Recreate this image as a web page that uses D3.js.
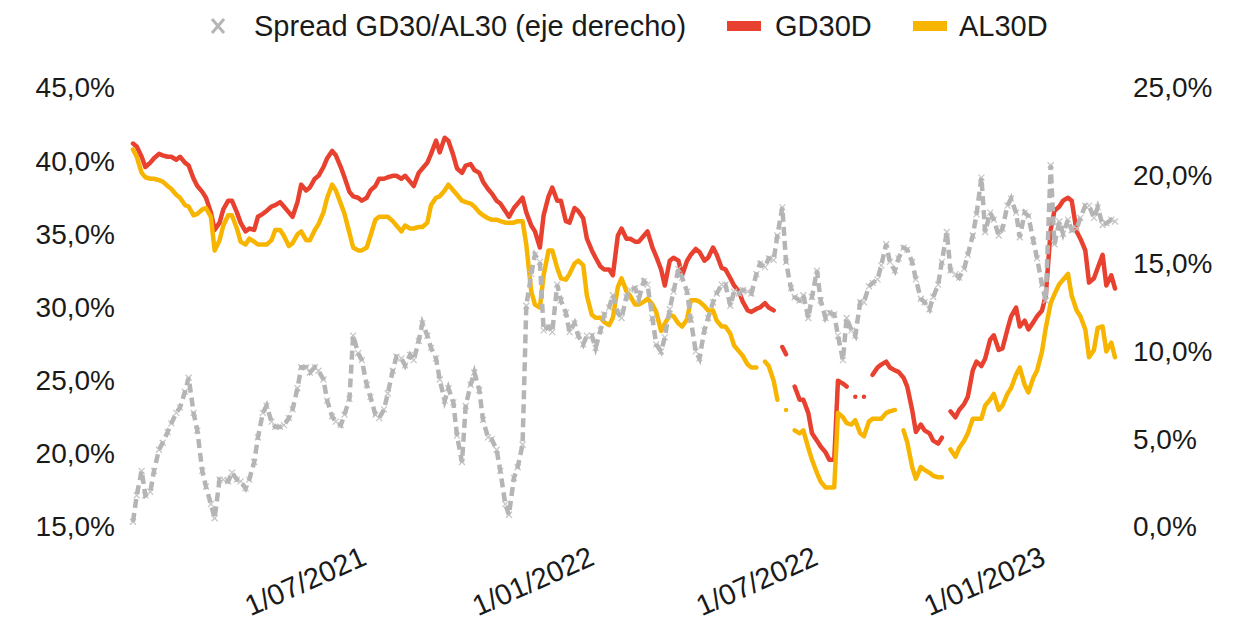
<!DOCTYPE html>
<html>
<head>
<meta charset="utf-8">
<script src="https://cdn.jsdelivr.net/npm/d3@7"></script>
<style>
  body { margin: 0; background: #fff; }
  #chart { width: 1249px; height: 630px; }
  text { font-family: "Liberation Sans", Arial, sans-serif; fill: #1a1a1a; }
</style>
</head>
<body>
<div id="chart"></div>
<script>
// fechas (lunes y jueves)
var dates = [
  '2020-12-28','2020-12-31','2021-01-04','2021-01-07','2021-01-11','2021-01-14','2021-01-18','2021-01-21',
  '2021-01-25','2021-01-28','2021-02-01','2021-02-04','2021-02-08','2021-02-11','2021-02-15','2021-02-18',
  '2021-02-22','2021-02-25','2021-03-01','2021-03-04','2021-03-08','2021-03-11','2021-03-15','2021-03-18',
  '2021-03-22','2021-03-25','2021-03-29','2021-04-01','2021-04-05','2021-04-08','2021-04-12','2021-04-15',
  '2021-04-19','2021-04-22','2021-04-26','2021-04-29','2021-05-03','2021-05-06','2021-05-10','2021-05-13',
  '2021-05-17','2021-05-20','2021-05-24','2021-05-27','2021-05-31','2021-06-03','2021-06-07','2021-06-10',
  '2021-06-14','2021-06-17','2021-06-21','2021-06-24','2021-06-28','2021-07-01','2021-07-05','2021-07-08',
  '2021-07-12','2021-07-15','2021-07-19','2021-07-22','2021-07-26','2021-07-29','2021-08-02','2021-08-05',
  '2021-08-09','2021-08-12','2021-08-16','2021-08-19','2021-08-23','2021-08-26','2021-08-30','2021-09-02',
  '2021-09-06','2021-09-09','2021-09-13','2021-09-16','2021-09-20','2021-09-23','2021-09-27','2021-09-30',
  '2021-10-04','2021-10-07','2021-10-11','2021-10-14','2021-10-18','2021-10-21','2021-10-25','2021-10-28',
  '2021-11-01','2021-11-04','2021-11-08','2021-11-11','2021-11-15','2021-11-18','2021-11-22','2021-11-25',
  '2021-11-29','2021-12-02','2021-12-06','2021-12-09','2021-12-13','2021-12-16','2021-12-20','2021-12-23',
  '2021-12-27','2021-12-30','2022-01-03','2022-01-06','2022-01-10','2022-01-13','2022-01-17','2022-01-20',
  '2022-01-24','2022-01-27','2022-01-31','2022-02-03','2022-02-07','2022-02-10','2022-02-14','2022-02-17',
  '2022-02-21','2022-02-24','2022-02-28','2022-03-03','2022-03-07','2022-03-10','2022-03-14','2022-03-17',
  '2022-03-21','2022-03-24','2022-03-28','2022-03-31','2022-04-04','2022-04-07','2022-04-11','2022-04-14',
  '2022-04-18','2022-04-21','2022-04-25','2022-04-28','2022-05-02','2022-05-05','2022-05-09','2022-05-12',
  '2022-05-16','2022-05-19','2022-05-23','2022-05-26','2022-05-30','2022-06-02','2022-06-06','2022-06-09',
  '2022-06-13','2022-06-16','2022-06-20','2022-06-23','2022-06-27','2022-06-30','2022-07-04','2022-07-07',
  '2022-07-11','2022-07-14','2022-07-18','2022-07-21','2022-07-25','2022-07-28','2022-08-01','2022-08-04',
  '2022-08-08','2022-08-11','2022-08-15','2022-08-18','2022-08-22','2022-08-25','2022-08-29','2022-09-01',
  '2022-09-05','2022-09-08','2022-09-12','2022-09-15','2022-09-19','2022-09-22','2022-09-26','2022-09-29',
  '2022-10-03','2022-10-06','2022-10-10','2022-10-13','2022-10-17','2022-10-20','2022-10-24','2022-10-27',
  '2022-10-31','2022-11-03','2022-11-07','2022-11-10','2022-11-14','2022-11-17','2022-11-21','2022-11-24',
  '2022-11-28','2022-12-01','2022-12-05','2022-12-08','2022-12-12','2022-12-15','2022-12-19','2022-12-22',
  '2022-12-26','2022-12-29','2023-01-02','2023-01-05','2023-01-09','2023-01-12','2023-01-16','2023-01-19',
  '2023-01-23','2023-01-26','2023-01-30','2023-02-02','2023-02-06','2023-02-09','2023-02-13','2023-02-16',
  '2023-02-20','2023-02-23','2023-02-27','2023-03-02'
];

// TIR GD30D (%), eje izquierdo
var gd30 = [
  41.2,41.0,40.3,39.6,39.9,40.2,40.5,40.4,
  40.3,40.3,40.1,40.3,39.9,39.7,38.8,38.3,
  37.9,37.5,36.5,35.3,35.8,36.7,37.3,37.3,
  36.5,35.8,35.2,35.4,35.3,36.2,36.4,36.6,
  36.9,37.0,37.2,36.9,36.5,36.2,37.2,38.4,
  38.0,38.2,38.8,39.0,39.6,40.2,40.7,40.4,
  39.6,38.9,37.9,37.6,37.5,37.3,37.5,38.0,
  38.3,38.8,38.8,38.9,39.0,39.0,38.8,39.0,
  38.6,38.3,39.2,39.5,39.9,40.5,41.4,40.6,
  41.6,41.4,40.4,39.5,39.2,39.7,39.8,39.4,
  39.2,38.6,38.1,37.8,37.3,37.1,36.6,36.2,
  36.8,37.1,37.5,36.5,35.6,35.2,34.1,36.3,
  37.6,38.2,37.3,37.3,35.9,35.8,36.8,36.6,
  36.1,34.7,33.9,33.4,32.8,32.6,32.6,32.2,
  34.9,35.4,34.7,34.7,34.5,34.5,34.9,35.2,
  34.1,33.5,32.6,31.5,33.2,33.4,33.2,32.2,
  33.2,33.6,34.0,33.8,33.2,33.4,34.1,33.6,
  32.7,32.6,32.0,31.5,31.1,30.4,29.8,29.7,
  29.9,30.0,30.3,30.0,29.8,null,27.3,26.8,
  null,24.6,23.7,23.7,22.8,21.4,20.9,20.5,
  20.1,19.6,19.6,25.0,24.8,24.6,null,23.9,
  null,23.9,null,25.4,25.9,26.1,26.3,25.9,
  25.7,25.6,25.2,24.6,23.0,21.5,22.0,21.6,
  21.4,20.9,20.7,21.1,null,22.9,22.5,23.0,
  23.4,23.9,25.7,26.3,26.0,26.5,27.8,28.1,
  27.1,27.2,28.5,29.4,30.0,28.7,29.1,28.5,
  29.0,29.4,29.8,30.8,35.3,36.6,36.9,37.3,
  37.5,37.3,35.2,34.7,33.9,31.7,32.0,32.7,
  33.6,31.5,32.2,31.3
];

// TIR AL30D (%), eje izquierdo
var al30 = [
  40.8,40.3,39.2,38.9,38.8,38.8,38.7,38.6,
  38.3,38.1,37.7,37.5,37.0,36.9,36.3,36.4,
  36.7,36.8,36.2,33.9,34.6,35.6,36.3,36.3,
  35.4,34.5,34.3,34.7,34.5,34.3,34.3,34.3,
  34.6,35.3,35.3,34.9,34.2,34.4,35.0,35.2,
  34.6,34.6,35.3,35.7,36.5,37.5,38.4,38.0,
  37.1,36.4,35.1,34.1,33.9,33.9,34.1,34.9,
  36.0,36.2,36.2,36.2,35.9,35.6,35.2,35.6,
  35.4,35.4,35.5,35.5,35.8,37.0,37.5,37.6,
  38.0,38.4,38.0,37.7,37.3,37.2,37.1,36.9,
  36.5,36.3,36.1,36.0,36.0,35.9,35.8,35.8,
  35.8,35.9,35.9,34.3,31.1,30.2,30.0,32.2,
  33.9,33.9,32.7,32.0,31.9,32.3,33.0,33.2,
  32.9,30.8,29.5,29.3,29.3,29.0,28.8,29.3,
  31.4,32.0,31.1,30.8,30.2,30.2,30.4,30.6,
  30.2,29.7,28.4,28.9,29.5,29.4,28.9,28.7,
  29.2,30.5,30.5,30.4,30.1,29.8,29.8,29.1,
  28.7,28.7,28.2,27.4,27.0,26.7,26.1,25.9,
  25.9,null,26.3,26.0,25.0,23.7,null,23.0,
  null,21.6,21.4,21.6,20.4,19.6,18.7,18.1,
  17.7,17.7,17.7,22.8,22.5,22.1,22.0,22.3,
  21.4,21.2,22.2,22.4,22.4,22.4,22.8,22.9,
  23.0,null,21.6,20.8,19.1,18.3,19.1,18.9,
  18.7,18.5,18.4,18.4,null,20.3,19.8,20.4,
  20.9,21.4,22.4,22.4,22.4,23.3,23.7,24.1,
  23.0,23.3,24.1,24.5,25.4,25.9,24.7,24.2,
  25.2,25.7,27.0,28.6,30.3,30.9,31.6,31.9,
  32.3,30.8,29.8,29.4,28.5,26.6,27.1,28.6,
  28.7,27.0,27.6,26.6
];

// Spread GD30/AL30 (%), eje derecho
var spread = [
  0.3,1.8,3.2,1.8,2.0,3.2,4.4,4.8,
  5.4,5.9,6.5,6.8,7.7,8.5,6.5,5.5,
  3.2,2.3,1.3,0.5,2.7,2.7,2.6,3.1,
  2.7,2.6,2.2,2.7,3.7,5.1,6.5,6.9,
  6.0,5.7,5.7,5.8,6.2,6.7,7.9,9.1,
  9.1,8.8,9.1,8.9,8.4,7.2,6.3,6.0,
  5.8,6.4,7.3,10.9,9.9,9.5,8.1,7.4,
  6.4,6.2,6.7,7.6,8.9,9.7,9.6,9.2,
  9.8,9.5,10.6,11.6,10.9,10.2,9.6,8.4,
  7.2,7.9,7.1,5.2,3.7,6.9,8.1,8.8,
  7.8,6.1,5.1,5.0,4.4,3.2,1.3,0.7,
  2.8,3.4,4.7,12.6,14.4,15.5,15.1,11.2,
  11.4,11.1,13.8,12.9,12.2,11.1,11.6,10.9,
  10.4,10.9,10.9,10.2,11.2,12.1,12.5,13.2,
  12.2,11.9,13.1,13.5,13.6,13.0,14.0,13.8,
  11.9,10.4,10.0,10.8,12.4,13.4,14.7,14.2,
  13.4,11.8,10.0,9.6,11.2,11.9,12.8,13.3,
  13.8,13.8,12.6,13.4,13.3,13.5,13.4,13.3,
  14.4,15.0,14.8,15.3,15.2,16.6,18.2,15.1,
  13.6,13.1,12.9,13.2,11.9,13.1,14.6,12.9,
  11.9,12.2,12.1,10.9,9.5,11.9,11.2,10.9,
  12.8,12.8,13.7,13.9,14.1,14.9,16.1,15.1,
  14.6,15.3,15.9,15.8,15.1,14.1,13.0,12.8,
  12.4,13.1,13.8,15.1,16.8,14.6,14.4,14.2,
  14.7,15.5,16.6,17.8,19.9,16.8,17.9,17.5,
  16.6,17.0,18.3,18.7,17.9,16.5,17.9,17.7,
  16.3,15.3,13.8,12.9,20.6,16.1,17.4,16.7,
  17.5,16.9,17.0,17.6,18.3,18.3,17.6,18.2,
  17.2,17.3,17.5,17.4
];

var leftTicks = [15, 20, 25, 30, 35, 40, 45];
var rightTicks = [0, 5, 10, 15, 20, 25];
var xTickDates = ['2021-07-01', '2022-01-01', '2022-07-01', '2023-01-01'];
var xTickLabels = ['1/07/2021', '1/01/2022', '1/07/2022', '1/01/2023'];
var legendLabels = ['Spread GD30/AL30 (eje derecho)', 'GD30D', 'AL30D'];

var colors = { spread: '#b5b5b5', gd: '#e8412f', al: '#f7b500' };

function drawChart() {
  var frame = d3.select('#chart');
  frame.html('');
  var margins = { left: 133, right: 134, top: 88, bottom: 103 };
  var width = 1249, height = 630;
  var frameWidth = width - margins.left - margins.right;
  var frameHeight = height - margins.top - margins.bottom;

  var svg = frame.append('svg')
    .attr('width', width)
    .attr('height', height);

  var g = svg.append('g')
    .attr('transform', 'translate(' + margins.left + ',' + margins.top + ')');

  var parseDate = d3.timeParse('%Y-%m-%d');
  var locale = d3.formatLocale({ decimal: ',', thousands: '.', grouping: [3], currency: ['$', ''] });
  var pct = locale.format('.1f');

  var xScale = d3.scaleTime()
    .domain([parseDate('2020-12-28'), parseDate('2023-03-02')])
    .range([0, frameWidth]);
  var yLeft = d3.scaleLinear().domain([15, 45]).range([frameHeight, 0]);
  var yRight = d3.scaleLinear().domain([0, 25]).range([frameHeight, 0]);

  var n = Math.min(dates.length, gd30.length, al30.length, spread.length);
  var rows = [];
  for (var i = 0; i < n; i++) {
    rows.push({ date: parseDate(dates[i]), gd: gd30[i], al: al30[i], sp: spread[i] });
  }

  // ejes
  var yAxisLeft = d3.axisLeft(yLeft)
    .tickValues(leftTicks)
    .tickSize(0)
    .tickPadding(18)
    .tickFormat(function(d) { return pct(d) + '%'; });
  var yAxisRight = d3.axisRight(yRight)
    .tickValues(rightTicks)
    .tickSize(0)
    .tickPadding(18)
    .tickFormat(function(d) { return pct(d) + '%'; });

  g.append('g')
      .attr('class', 'axis axis--left')
      .call(yAxisLeft)
      .call(function(a) { a.select('.domain').remove(); })
    .selectAll('text')
      .style('font-size', '28px');

  g.append('g')
      .attr('class', 'axis axis--right')
      .attr('transform', 'translate(' + frameWidth + ',0)')
      .call(yAxisRight)
      .call(function(a) { a.select('.domain').remove(); })
    .selectAll('text')
      .style('font-size', '28px');

  var xAxis = d3.axisBottom(xScale)
    .tickValues(xTickDates.map(parseDate))
    .tickSize(0)
    .tickFormat(function(d, i) { return xTickLabels[i]; });

  g.append('g')
      .attr('class', 'axis axis--x')
      .attr('transform', 'translate(0,' + frameHeight + ')')
      .call(xAxis)
      .call(function(a) { a.select('.domain').remove(); })
    .selectAll('text')
      .attr('x', 0)
      .attr('y', 0)
      .attr('dy', 0)
      .attr('transform', 'translate(6,37) rotate(-24)')
      .style('text-anchor', 'end')
      .style('font-size', '29px');

  // lineas
  var lineGd = d3.line()
    .defined(function(d) { return d.gd != null; })
    .x(function(d) { return xScale(d.date); })
    .y(function(d) { return yLeft(d.gd); });
  var lineAl = d3.line()
    .defined(function(d) { return d.al != null; })
    .x(function(d) { return xScale(d.date); })
    .y(function(d) { return yLeft(d.al); });
  var lineSp = d3.line()
    .defined(function(d) { return d.sp != null; })
    .x(function(d) { return xScale(d.date); })
    .y(function(d) { return yRight(d.sp); });

  g.append('path')
    .datum(rows)
    .attr('class', 'line gd30')
    .attr('d', lineGd)
    .attr('fill', 'none')
    .attr('stroke', colors.gd)
    .attr('stroke-width', 4.5)
    .attr('stroke-linejoin', 'round')
    .attr('stroke-linecap', 'round');

  g.append('path')
    .datum(rows)
    .attr('class', 'line al30')
    .attr('d', lineAl)
    .attr('fill', 'none')
    .attr('stroke', colors.al)
    .attr('stroke-width', 4.5)
    .attr('stroke-linejoin', 'round')
    .attr('stroke-linecap', 'round');

  // marcadores x del spread
  g.append('g')
      .attr('class', 'markers')
    .selectAll('path')
    .data(rows.filter(function(d) { return d.sp != null; }))
    .enter().append('path')
      .attr('transform', function(d) { return 'translate(' + xScale(d.date) + ',' + yRight(d.sp) + ')'; })
      .attr('d', 'M-3,-3L3,3M-3,3L3,-3')
      .attr('stroke', '#c4c4c4')
      .attr('stroke-width', 1.2);

  g.append('path')
    .datum(rows)
    .attr('class', 'line spread')
    .attr('d', lineSp)
    .attr('fill', 'none')
    .attr('stroke', colors.spread)
    .attr('stroke-width', 4.5)
    .attr('stroke-dasharray', '9,5');

  // leyenda
  var legend = svg.append('g').attr('class', 'legend');
  legend.append('path')
    .attr('d', 'M212,19L224,33M212,33L224,19')
    .attr('stroke', colors.spread)
    .attr('stroke-width', 3);
  legend.append('text')
    .attr('x', 254).attr('y', 36)
    .style('font-size', '29px')
    .text(legendLabels[0]);
  legend.append('rect')
    .attr('x', 727).attr('y', 21).attr('width', 34).attr('height', 10)
    .attr('fill', colors.gd);
  legend.append('text')
    .attr('x', 775).attr('y', 36)
    .style('font-size', '29px')
    .text(legendLabels[1]);
  legend.append('rect')
    .attr('x', 913).attr('y', 21).attr('width', 34).attr('height', 10)
    .attr('fill', colors.al);
  legend.append('text')
    .attr('x', 959).attr('y', 36)
    .style('font-size', '29px')
    .text(legendLabels[2]);
}

function init() {
  drawChart();
}

init();
</script>
</body>
</html>
